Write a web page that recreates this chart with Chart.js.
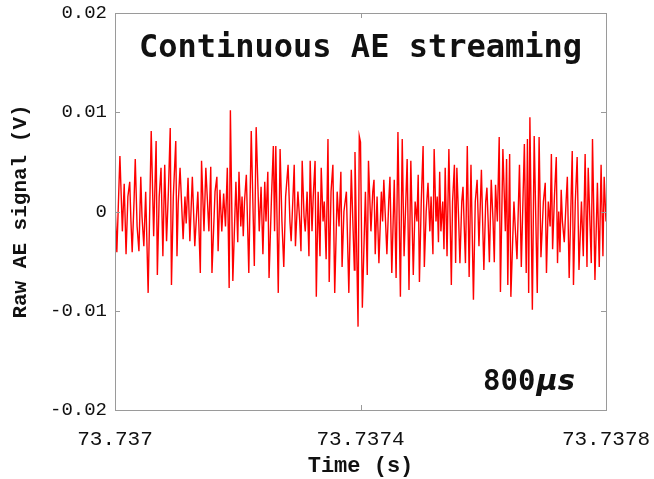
<!DOCTYPE html>
<html>
<head>
<meta charset="utf-8">
<script src="https://cdn.jsdelivr.net/npm/chart.js@4/dist/chart.umd.min.js"></script>
<style>
  html, body { margin: 0; padding: 0; background: #fff; }
  #wrap { width: 654px; height: 479px; }
</style>
</head>
<body>
<div id="wrap"><canvas id="ae-chart"></canvas></div>
<script>
// time offset from 73.737 s, in microseconds
const timeUs = [
  0, 3, 8, 12, 15, 18, 21, 24, 26, 28, 31, 33, 36, 39, 42, 44, 47, 50, 54, 59,
  63, 67, 69, 72, 75, 78, 81, 84, 87, 90, 92, 95, 99, 101, 103, 106, 111, 114, 116, 119,
  122, 126, 130, 135, 139, 141, 145, 148, 153, 156, 158, 163, 166, 168, 171, 174, 177, 180, 183, 186,
  188, 192, 197, 200, 202, 205, 207, 209, 211, 214, 218, 222, 227, 230, 235, 238, 241, 244, 246, 249,
  251, 255, 258, 260, 262, 266, 269, 272, 275, 278, 282, 285, 287, 290, 292, 294, 298, 301, 303, 305,
  308, 310, 313, 316, 318, 321, 323, 326, 328, 331, 334, 336, 339, 341, 344, 347, 349, 352, 355, 358,
  362, 365, 368, 370, 373, 377, 381, 385, 388, 390, 391, 393, 396, 398, 400, 403, 408, 411, 413, 417,
  420, 422, 424, 427, 430, 434, 436, 438, 443, 446, 448, 451, 455, 458, 461, 465, 468, 471, 476, 479,
  482, 486, 489, 492, 494, 496, 499, 502, 504, 507, 510, 513, 515, 518, 520, 523, 525, 527, 529, 531,
  534, 536, 538, 541, 544, 548, 550, 553, 555, 557, 560, 562, 565, 567, 569, 571, 574, 577, 580, 584,
  587, 590, 593, 597, 599, 601, 604, 606, 608, 610, 613, 616, 618, 620, 623, 626, 628, 632, 636, 638,
  640, 643, 645, 650, 652, 655, 659, 662, 667, 670, 672, 674, 676, 680, 683, 688, 691, 694, 698, 701,
  703, 706, 709, 711, 713, 716, 719, 721, 723, 725, 727, 729, 732, 735, 737, 740, 745, 747, 750, 753,
  756, 760, 763, 766, 769, 771, 776, 778, 782, 786, 789, 792, 795, 797, 800
];

// raw AE signal in mV
const signalMv = [
  1.0, -4.1, 5.6, -2.0, 2.8, -4.3, 1.5, 3.0, -1.0, -4.1, 1.0, 5.3, -1.5, -4.0, 3.5, -0.5, -3.5, 2.0, -8.2, 8.1,
  -2.5, 7.1, -6.4, 1.5, 4.4, -4.5, 4.7, -3.0, 2.0, 8.4, -7.4, 1.5, 7.1, -4.5, 0.8, 4.4, -2.8, 1.5, -1.2, 3.4,
  -3.0, 3.5, -3.5, 2.0, -6.2, 5.1, -2.0, 4.4, -2.0, 4.5, -6.2, 2.0, 3.5, -4.0, 2.2, -2.0, 1.8, -1.5, 4.4, -7.7,
  10.2, -7.0, 3.0, -3.1, 4.0, -1.5, 1.5, -2.5, 1.0, 3.7, -6.2, 8.1, -5.5, 8.5, -2.0, 2.5, -4.3, 3.0, -1.0, 4.0,
  -6.7, 1.5, 6.6, -2.0, 6.6, -8.2, 6.3, -1.0, -5.6, 1.5, 4.7, -1.0, -3.0, 1.5, 4.7, -3.5, 2.0, -1.0, -4.0, 5.1,
  -0.5, -2.0, 2.0, -4.5, 5.1, -2.0, 1.5, 5.1, -8.6, 2.0, -4.5, 4.4, -1.0, 1.0, -4.8, 7.3, -7.1, 2.0, 4.7, -8.2,
  2.0, -1.5, 4.0, -5.6, 0.0, 2.0, -8.2, 4.2, -2.0, -5.9, 6.0, -1.0, -11.6, 7.6, 7.0, -9.7, 2.0, -6.4, 5.1, -2.0,
  2.0, 3.2, -4.3, 1.5, -5.2, 2.0, -1.0, 3.2, -4.3, 1.0, 3.5, -6.2, 3.2, -6.7, 8.0, -8.6, 7.3, -4.5, 5.3, -7.9,
  5.1, -6.4, 1.0, -1.0, 3.7, -7.1, 1.0, 6.6, -5.6, 0.0, 2.9, -2.0, 1.5, -4.3, 6.3, -1.0, 1.5, -3.1, 4.0, -2.0,
  1.0, -3.8, 4.4, -4.5, 6.3, -7.4, 1.0, 4.7, -5.2, 4.4, -1.0, -5.2, 1.0, 2.5, -1.5, -5.2, 6.6, -6.6, 4.7, -8.9,
  1.0, 3.2, -3.5, 4.2, -1.0, -5.9, 1.0, 2.4, -1.0, -5.1, 3.2, -1.0, -5.1, 2.7, -1.0, 7.5, -8.1, 6.3, -2.0, 5.3,
  -7.4, 5.8, -8.6, 1.0, -1.5, -4.8, 4.7, -5.6, 6.8, -6.2, 7.3, -8.2, 9.5, -9.9, 7.6, -8.2, 7.5, -4.6, 1.0, 2.9,
  -6.2, 1.0, -1.5, 5.8, -3.8, 1.5, 5.5, -5.2, 0.0, -4.1, 2.2, -1.0, -3.1, 1.0, 3.5, -6.7, 6.1, -7.4, 1.0, 5.5,
  -5.9, 1.0, -4.5, 5.8, -5.6, 4.4, -5.2, 7.3, -6.9, 2.9, -5.6, 4.7, -4.5, 3.5, -1.0
];

const xTicks = [0, 400, 800];
const xTickLabels = ['73.737', '73.7374', '73.7378'];
const yTicks = [-0.02, -0.01, 0, 0.01, 0.02];
const yTickLabels = ['-0.02', '-0.01', '0', '0.01', '0.02'];

const points = timeUs.map((t, i) => ({ x: t, y: signalMv[i] / 1000 }));

const frameAndText = {
  id: 'frameAndText',
  afterDraw(chart) {
    const { ctx, chartArea: a, scales } = chart;
    ctx.save();
    ctx.strokeStyle = '#9a9a9a';
    ctx.lineWidth = 1;
    ctx.strokeRect(a.left + 0.5, a.top + 0.5, a.right - a.left, a.bottom - a.top);
    ctx.beginPath();
    yTicks.forEach(v => {
      const y = Math.round(scales.y.getPixelForValue(v)) + 0.5;
      ctx.moveTo(a.left, y); ctx.lineTo(a.left + 5, y);
      ctx.moveTo(a.right, y); ctx.lineTo(a.right - 5, y);
    });
    xTicks.forEach(v => {
      const x = Math.round(scales.x.getPixelForValue(v)) + 0.5;
      ctx.moveTo(x, a.top); ctx.lineTo(x, a.top + 5);
      ctx.moveTo(x, a.bottom); ctx.lineTo(x, a.bottom - 5);
    });
    ctx.stroke();

    ctx.fillStyle = '#111';
    ctx.textAlign = 'center';
    ctx.textBaseline = 'alphabetic';
    ctx.font = 'bold 32px "DejaVu Sans Mono"';
    ctx.fillText('Continuous AE streaming', (a.left + a.right) / 2, a.top + 44);

    // "800" upright, "μs" italic, right edge near the frame
    ctx.textAlign = 'left';
    const numFont = 'bold 29px "DejaVu Sans Mono"';
    const unitFont = 'italic bold 29px "DejaVu Sans"';
    ctx.font = numFont;
    const w1 = ctx.measureText('800').width;
    ctx.font = unitFont;
    const w2 = ctx.measureText('\u03bcs').width;
    const x0 = a.right - 31 - w1 - w2 - 1;
    ctx.font = numFont;
    ctx.fillText('800', x0, a.bottom - 20);
    ctx.font = unitFont;
    ctx.fillText('\u03bcs', x0 + w1 + 1, a.bottom - 20);
    ctx.restore();
  }
};

new Chart(document.getElementById('ae-chart'), {
  type: 'line',
  data: {
    datasets: [{
      data: points,
      borderColor: 'rgb(255, 0, 0)',
      borderWidth: 1.4,
      pointRadius: 0,
      tension: 0,
      fill: false
    }]
  },
  options: {
    responsive: true,
    maintainAspectRatio: false,
    animation: false,
    layout: { padding: { top: 13, right: 48, left: 0, bottom: 0 } },
    plugins: {
      legend: { display: false },
      tooltip: { enabled: false }
    },
    scales: {
      x: {
        type: 'linear',
        min: 0,
        max: 800,
        afterBuildTicks: s => { s.ticks = xTicks.map(v => ({ value: v })); },
        afterFit: s => { s.height = 69; s.paddingLeft = 0; s.paddingRight = 0; },
        grid: { display: false, drawTicks: false },
        border: { display: false },
        ticks: {
          autoSkip: false,
          maxRotation: 0,
          padding: 17,
          color: '#111',
          font: { family: 'Liberation Mono', size: 21 },
          callback: (v, i) => xTickLabels[i]
        },
        title: {
          display: true,
          text: 'Time (s)',
          color: '#111',
          font: { family: 'Liberation Mono', size: 22, weight: 'bold', lineHeight: 1 },
          padding: { top: 0, bottom: 2 }
        }
      },
      y: {
        min: -0.02,
        max: 0.02,
        afterBuildTicks: s => { s.ticks = yTicks.map(v => ({ value: v })); },
        afterFit: s => { s.width = 115; s.paddingTop = 0; s.paddingBottom = 0; },
        grid: { display: false, drawTicks: false },
        border: { display: false },
        ticks: {
          autoSkip: false,
          padding: 8,
          color: '#111',
          font: { family: 'Liberation Mono', size: 19 },
          callback: (v, i) => yTickLabels[i]
        },
        title: {
          display: true,
          text: 'Raw AE signal (V)',
          color: '#111',
          font: { family: 'Liberation Mono', size: 21, weight: 'bold' },
          padding: { top: 8, bottom: 0 }
        }
      }
    }
  },
  plugins: [frameAndText]
});
</script>
</body>
</html>
